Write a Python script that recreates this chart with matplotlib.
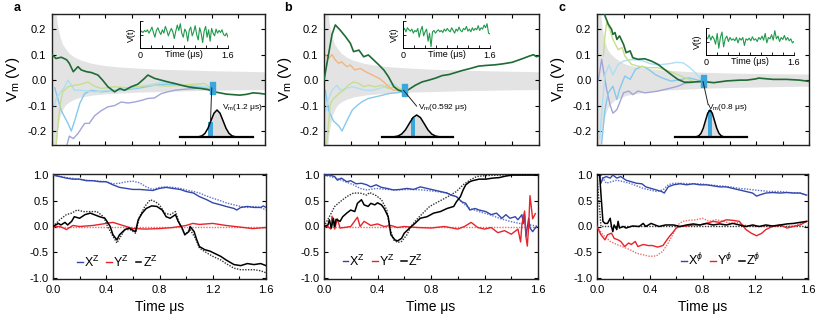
import numpy as np
import matplotlib
matplotlib.use("Agg")
import matplotlib.pyplot as plt
from matplotlib.patches import ConnectionPatch

plt.rcParams['font.family'] = ['Liberation Sans', 'DejaVu Sans']
plt.rcParams['axes.unicode_minus'] = False
plt.rcParams['mathtext.fontset'] = 'custom'
plt.rcParams['mathtext.rm'] = 'Liberation Sans'
plt.rcParams['mathtext.it'] = 'Liberation Sans:italic'
plt.rcParams['mathtext.bf'] = 'Liberation Sans:bold'

# ---------------- data: top panels (V_m trajectories) ----------------
band_t = [0.005, 0.02, 0.04, 0.06, 0.08, 0.1, 0.13, 0.17, 0.22, 0.3, 0.4, 0.5, 0.65, 0.8, 1.0, 1.2, 1.4, 1.6]
band_hi = [0.40, 0.30, 0.22, 0.17, 0.14, 0.125, 0.105, 0.09, 0.078, 0.066, 0.057, 0.052, 0.047, 0.043, 0.04, 0.037, 0.035, 0.033]
band_lo = [-0.40, -0.30, -0.2, -0.14, -0.115, -0.098, -0.085, -0.075, -0.066, -0.059, -0.054, -0.051, -0.047, -0.045, -0.042, -0.04, -0.038, -0.037]
bandc_hi = [0.40, 0.30, 0.2, 0.15, 0.12, 0.105, 0.09, 0.075, 0.062, 0.052, 0.045, 0.04, 0.035, 0.031, 0.028, 0.026, 0.025, 0.024]
bandc_lo = [-0.40, -0.30, -0.2, -0.14, -0.11, -0.095, -0.08, -0.07, -0.06, -0.052, -0.045, -0.04, -0.036, -0.032, -0.029, -0.027, -0.025, -0.024]

ga_t = [0.0, 0.03, 0.07, 0.11, 0.13, 0.16, 0.195, 0.22, 0.26, 0.295, 0.345, 0.38, 0.42, 0.47, 0.51, 0.545, 0.595, 0.645, 0.695, 0.72, 0.77, 0.82, 0.87, 0.92, 0.97, 1.02, 1.07, 1.12, 1.17, 1.22, 1.26, 1.31, 1.36, 1.41, 1.46, 1.51, 1.56, 1.6]
ga_v = [0.10, 0.085, 0.09, 0.08, 0.066, 0.033, 0.053, 0.04, 0.033, 0.03, 0.02, 0.0, -0.026, -0.046, -0.033, -0.04, -0.026, -0.016, 0.007, 0.02, 0.007, 0.0, -0.007, -0.013, -0.02, -0.026, -0.03, -0.033, -0.037, -0.046, -0.05, -0.055, -0.057, -0.059, -0.056, -0.05, -0.052, -0.055]
yg_a_t = [0.03, 0.05, 0.06, 0.08, 0.12, 0.17, 0.22, 0.27, 0.32, 0.37, 0.47, 0.57, 0.67, 0.77, 0.87, 0.97, 1.07, 1.145, 1.19]
yg_a_v = [-0.26, -0.15, -0.1, -0.046, -0.026, -0.02, -0.016, -0.007, -0.024, -0.033, -0.026, -0.03, -0.024, -0.02, -0.024, -0.02, -0.016, -0.013, -0.03]
pc_a_t = [0.015, 0.03, 0.06, 0.09, 0.12, 0.145, 0.17, 0.22, 0.32, 0.42, 0.52, 0.62, 0.72, 0.82, 0.92, 1.02, 1.12, 1.19]
pc_a_v = [-0.1, -0.075, -0.05, -0.03, 0.0, -0.02, -0.04, -0.04, -0.046, -0.04, -0.037, -0.03, -0.02, -0.01, -0.013, -0.02, -0.024, -0.03]
sb_a_t = [0.02, 0.04, 0.07, 0.1, 0.12, 0.145, 0.17, 0.21, 0.245, 0.295, 0.37, 0.47, 0.57, 0.67, 0.77, 0.87, 0.97, 1.07, 1.19]
sb_a_v = [-0.03, -0.066, -0.12, -0.15, -0.17, -0.2, -0.16, -0.09, -0.053, -0.04, -0.046, -0.04, -0.037, -0.03, -0.02, -0.016, -0.02, -0.024, -0.03]
lv_a_t = [0.11, 0.13, 0.16, 0.195, 0.245, 0.28, 0.32, 0.37, 0.42, 0.47, 0.52, 0.57, 0.62, 0.67, 0.72, 0.77, 0.82, 0.87, 0.92, 0.97, 1.07, 1.19]
lv_a_v = [-0.26, -0.22, -0.23, -0.21, -0.17, -0.17, -0.14, -0.12, -0.105, -0.1, -0.086, -0.09, -0.086, -0.08, -0.072, -0.07, -0.053, -0.046, -0.04, -0.037, -0.033, -0.03]
mark_a = (1.2, -0.03)

gb_t = [0.0, 0.03, 0.06, 0.084, 0.12, 0.16, 0.196, 0.22, 0.26, 0.295, 0.33, 0.37, 0.41, 0.445, 0.48, 0.52, 0.555, 0.6, 0.63, 0.68, 0.73, 0.78, 0.83, 0.88, 0.93, 0.98, 1.03, 1.09, 1.15, 1.21, 1.27, 1.33, 1.4, 1.48, 1.53, 1.56, 1.58, 1.6]
gb_v = [0.0, 0.09, 0.18, 0.217, 0.197, 0.171, 0.145, 0.112, 0.118, 0.092, 0.099, 0.079, 0.059, 0.04, 0.013, -0.026, -0.04, -0.046, -0.037, -0.02, -0.007, 0.0, 0.008, 0.018, 0.022, 0.03, 0.038, 0.046, 0.055, 0.058, 0.06, 0.064, 0.07, 0.085, 0.095, 0.1, 0.092, 0.095]
or_b_t = [0.01, 0.035, 0.06, 0.085, 0.11, 0.13, 0.17, 0.196, 0.23, 0.27, 0.31, 0.36, 0.41, 0.445, 0.48, 0.52, 0.555, 0.586]
or_b_v = [0.1, 0.086, 0.1, 0.079, 0.066, 0.072, 0.053, 0.059, 0.04, 0.046, 0.033, 0.02, 0.007, -0.007, -0.026, -0.04, -0.037, -0.04]
yg_b_t = [0.02, 0.047, 0.072, 0.11, 0.146, 0.18, 0.22, 0.26, 0.295, 0.33, 0.38, 0.43, 0.48, 0.53, 0.586]
yg_b_v = [-0.25, -0.092, -0.072, -0.053, -0.04, -0.02, -0.007, -0.013, -0.026, -0.02, -0.026, -0.02, -0.033, -0.024, -0.04]
pc_b_t = [0.015, 0.03, 0.06, 0.097, 0.12, 0.16, 0.21, 0.26, 0.31, 0.36, 0.43, 0.48, 0.52, 0.586]
pc_b_v = [-0.12, -0.08, -0.04, -0.02, -0.04, -0.033, -0.026, -0.033, -0.04, -0.04, -0.03, -0.02, -0.016, -0.04]
sb_b_t = [0.01, 0.035, 0.07, 0.11, 0.134, 0.17, 0.21, 0.246, 0.28, 0.33, 0.38, 0.43, 0.48, 0.53, 0.586]
sb_b_v = [-0.04, -0.12, -0.16, -0.18, -0.2, -0.16, -0.118, -0.1, -0.086, -0.072, -0.066, -0.06, -0.053, -0.05, -0.046]
mark_b = (0.592, -0.04)

gc_t = [0.04, 0.06, 0.085, 0.11, 0.12, 0.136, 0.15, 0.17, 0.2, 0.22, 0.25, 0.27, 0.31, 0.36, 0.41, 0.46, 0.51, 0.56, 0.61, 0.66, 0.71, 0.795, 0.88, 0.98, 1.08, 1.13, 1.2, 1.22, 1.33, 1.43, 1.53, 1.6]
gc_v = [0.3, 0.253, 0.22, 0.2, 0.18, 0.187, 0.16, 0.174, 0.141, 0.108, 0.115, 0.088, 0.082, 0.084, 0.075, 0.062, 0.042, 0.022, 0.003, -0.008, -0.008, -0.005, -0.01, -0.003, 0.0, 0.0, 0.005, 0.008, 0.003, 0.003, 0.0, -0.005]
yg_c_t = [0.048, 0.06, 0.073, 0.1, 0.12, 0.16, 0.19, 0.21, 0.26, 0.31, 0.39, 0.46, 0.54, 0.61, 0.69, 0.74, 0.795]
yg_c_v = [0.095, 0.174, 0.227, 0.194, 0.16, 0.12, 0.128, 0.095, 0.062, 0.055, 0.049, 0.049, 0.036, 0.022, 0.003, -0.008, -0.005]
pc_c_t = [0.02, 0.04, 0.06, 0.09, 0.12, 0.16, 0.2, 0.25, 0.3, 0.35, 0.4, 0.45, 0.5, 0.55, 0.6, 0.65, 0.7, 0.75, 0.795]
pc_c_v = [-0.23, -0.1, 0.02, 0.06, 0.02, 0.062, 0.075, 0.08, 0.08, 0.075, 0.065, 0.06, 0.062, 0.065, 0.07, 0.068, 0.05, 0.025, -0.005]
sb_c_t = [0.035, 0.06, 0.085, 0.12, 0.15, 0.17, 0.21, 0.25, 0.29, 0.34, 0.39, 0.44, 0.49, 0.56, 0.64, 0.69, 0.74, 0.795]
sb_c_v = [-0.25, -0.116, -0.05, -0.024, -0.076, -0.037, 0.016, 0.003, 0.042, 0.055, 0.042, 0.022, 0.009, -0.004, 0.003, 0.009, 0.003, -0.005]
lv_c_t = [0.01, 0.035, 0.048, 0.073, 0.1, 0.12, 0.15, 0.17, 0.2, 0.24, 0.27, 0.31, 0.36, 0.41, 0.46, 0.51, 0.565, 0.61, 0.66, 0.71, 0.795]
lv_c_v = [0.0, 0.082, 0.04, -0.037, -0.1, -0.13, -0.116, -0.09, -0.05, -0.043, -0.057, -0.043, -0.05, -0.047, -0.043, -0.037, -0.03, -0.024, -0.013, -0.01, -0.005]
mark_c = (0.8, -0.005)

# inset V(t) records
ins_a = [0.1, 0.25, 0.15, 0.3, 0.2, 0.35, 0.1, 0.3, 0.55, 0.15, -0.2, 0.3, 0.5, 0.2, 0.0, 0.35, 0.1, 0.6, 0.3, -0.1,
         0.2, 0.45, 0.2, -0.3, 0.25, 0.7, 0.3, 0.8, 0.1, -0.2, 0.4, 0.2, -0.5, 0.3, 0.55, -0.1, 0.2, 0.65, 0.0, -0.4,
         0.5, 0.1, -0.6, 0.25, 0.6, -0.2, 0.35, -0.5, 0.45, 0.1, -0.1, 0.4, 0.1, 0.3, 0.15, 0.35, 0.0, -0.1, 0.1, -0.2]
ins_b = [0.3, 0.45, 0.2, 0.5, 0.35, 0.25, 0.4, 0.1, 0.3, 0.2, 0.45, -0.2, 0.3, 0.6, -0.1, 0.2, 0.4, -0.5, 0.1, -0.9,
         0.2, 0.3, 0.1, 0.25, 0.35, 0.2, 0.3, 0.15, 0.4, 0.25, 0.45, 0.3, 0.2, 0.5, 0.3, 0.1, 0.4, 0.25, 0.55, 0.3,
         0.2, 0.45, 0.35, 0.6, 0.25, 0.4, 0.2, 0.5, 0.3, 0.45, 0.35, 0.65, 0.3, 0.5, 0.4, 0.7, 0.5, 0.8, 0.1, 0.05]
ins_c = [0.3, 0.2, 0.5, 0.1, 0.4, 0.2, -0.2, 0.6, -0.5, 0.3, 0.7, -0.4, 0.2, 0.4, 0.0, 0.3, 0.1, 0.2, 0.05, 0.3,
         -0.1, 0.25, 0.1, 0.3, -0.3, 0.2, 0.1, 0.25, 0.05, 0.35, 0.1, 0.2, 0.0, 0.3, 0.15, 0.4, 0.1, 0.6, -0.1, 0.3,
         0.2, 0.5, 0.1, 0.8, 0.2, 0.4, 0.0, 0.3, 0.15, 0.45, 0.1, 0.3, 0.05, 0.2, -0.1, 0.0]

# gaussian sketch (units of sigma)
gauss_x = [-4, -3.5, -3, -2.5, -2, -1.5, -1, -0.5, 0, 0.5, 1, 1.5, 2, 2.5, 3, 3.5, 4]
gauss_y = [0.0003, 0.0022, 0.011, 0.044, 0.135, 0.325, 0.607, 0.882, 1.0, 0.882, 0.607, 0.325, 0.135, 0.044, 0.011, 0.0022, 0.0003]
gauss_labels = [r"V$_\mathrm{m}$(1.2 μs)", r"V$_\mathrm{m}$(0.592 μs)", r"V$_\mathrm{m}$(0.8 μs)"]
bar_pos = [-1.08, -0.55, 0.0]
bar_h = [0.56, 0.86, 1.0]
bar_w = [0.8, 0.55, 0.9]

# ---------------- data: bottom panels (Bloch components) ----------------
Xa_t = [0, 0.05, 0.1, 0.15, 0.2, 0.25, 0.3, 0.35, 0.4, 0.45, 0.5, 0.55, 0.6, 0.65, 0.7, 0.75, 0.8, 0.85, 0.9, 0.955, 1.0, 1.055, 1.1, 1.155, 1.2, 1.26, 1.3, 1.36, 1.38, 1.41, 1.46, 1.51, 1.56, 1.58, 1.6]
Xa_v = [1.0, 0.97, 0.94, 0.92, 0.92, 0.89, 0.89, 0.87, 0.87, 0.81, 0.76, 0.74, 0.72, 0.72, 0.71, 0.7, 0.74, 0.76, 0.74, 0.72, 0.68, 0.65, 0.58, 0.52, 0.46, 0.42, 0.39, 0.35, 0.32, 0.37, 0.39, 0.37, 0.37, 0.4, 0.37]
Xad_t = [0, 0.1, 0.25, 0.4, 0.45, 0.5, 0.55, 0.6, 0.65, 0.7, 0.75, 0.8, 0.85, 0.9, 0.955, 1.0, 1.055, 1.1, 1.155, 1.2, 1.26, 1.3, 1.36, 1.41, 1.46, 1.51, 1.56, 1.6]
Xad_v = [1.0, 0.95, 0.9, 0.87, 0.83, 0.84, 0.87, 0.88, 0.85, 0.77, 0.72, 0.76, 0.77, 0.76, 0.74, 0.71, 0.68, 0.65, 0.59, 0.55, 0.5, 0.46, 0.42, 0.39, 0.37, 0.39, 0.37, 0.32]
Ya_t = [0, 0.05, 0.08, 0.1, 0.15, 0.2, 0.3, 0.4, 0.45, 0.5, 0.6, 0.7, 0.8, 0.9, 1.0, 1.05, 1.1, 1.2, 1.3, 1.4, 1.5, 1.6]
Ya_v = [0, 0.0, -0.03, -0.06, 0.02, 0.0, 0.02, 0.06, 0.08, 0.04, -0.04, -0.05, -0.04, -0.02, 0.02, 0.06, 0.04, 0.06, 0.02, -0.01, -0.04, -0.02]
Yad_t = [0, 1.6]
Yad_v = [0, 0]
Za_t = [0, 0.04, 0.06, 0.09, 0.11, 0.14, 0.16, 0.2, 0.24, 0.28, 0.31, 0.35, 0.39, 0.43, 0.45, 0.48, 0.5, 0.54, 0.57, 0.59, 0.62, 0.64, 0.67, 0.7, 0.74, 0.78, 0.82, 0.85, 0.88, 0.92, 0.94, 0.97, 0.99, 1.02, 1.03, 1.06, 1.08, 1.1, 1.14, 1.18, 1.22, 1.26, 1.3, 1.36, 1.41, 1.46, 1.51, 1.56, 1.6]
Za_v = [0, 0.06, 0.03, 0.08, 0.03, 0.1, 0.19, 0.16, 0.23, 0.26, 0.23, 0.19, 0.16, 0.0, -0.16, -0.26, -0.16, -0.06, -0.03, -0.06, -0.1, 0.13, 0.26, 0.35, 0.4, 0.39, 0.32, 0.19, 0.16, 0.23, 0.1, -0.03, -0.16, -0.1, 0.0, -0.1, -0.26, -0.39, -0.45, -0.48, -0.53, -0.58, -0.65, -0.74, -0.76, -0.72, -0.74, -0.72, -0.76]
Zad_t = [0, 0.05, 0.1, 0.14, 0.18, 0.23, 0.28, 0.33, 0.38, 0.41, 0.45, 0.48, 0.5, 0.54, 0.58, 0.62, 0.65, 0.69, 0.73, 0.77, 0.8, 0.84, 0.88, 0.92, 0.95, 0.99, 1.03, 1.07, 1.1, 1.16, 1.2, 1.26, 1.3, 1.36, 1.41, 1.46, 1.51, 1.56, 1.6]
Zad_v = [0, 0.13, 0.23, 0.26, 0.32, 0.29, 0.29, 0.29, 0.19, 0.0, -0.19, -0.32, -0.23, -0.06, -0.06, -0.13, 0.19, 0.39, 0.52, 0.48, 0.42, 0.26, 0.23, 0.29, 0.06, -0.16, -0.06, -0.23, -0.42, -0.52, -0.58, -0.65, -0.72, -0.81, -0.84, -0.84, -0.84, -0.86, -0.9]

Xb_t = [0, 0.04, 0.08, 0.1, 0.13, 0.17, 0.2, 0.24, 0.28, 0.32, 0.35, 0.39, 0.43, 0.47, 0.52, 0.57, 0.62, 0.67, 0.72, 0.77, 0.82, 0.87, 0.92, 0.95, 0.99, 1.03, 1.06, 1.09, 1.13, 1.16, 1.21, 1.25, 1.29, 1.33, 1.36, 1.39, 1.43, 1.45, 1.48, 1.49, 1.5, 1.51, 1.53, 1.54, 1.56, 1.58, 1.59]
Xb_v = [1.0, 1.0, 0.97, 0.9, 0.94, 0.87, 0.89, 0.83, 0.84, 0.81, 0.77, 0.81, 0.76, 0.74, 0.71, 0.72, 0.74, 0.72, 0.77, 0.74, 0.71, 0.68, 0.65, 0.61, 0.58, 0.48, 0.45, 0.32, 0.35, 0.32, 0.29, 0.23, 0.26, 0.16, 0.23, 0.16, 0.19, 0.13, 0.23, 0.06, 0.23, -0.19, 0.16, -0.03, -0.1, -0.03, 0.0]
Xbd_t = [0, 0.09, 0.22, 0.27, 0.32, 0.39, 0.47, 0.54, 0.64, 0.74, 0.84, 0.92, 0.99, 1.04, 1.09, 1.16, 1.24, 1.31, 1.39, 1.46, 1.54, 1.59]
Xbd_v = [1.0, 0.94, 0.81, 0.74, 0.71, 0.74, 0.72, 0.71, 0.72, 0.71, 0.68, 0.65, 0.58, 0.45, 0.35, 0.29, 0.23, 0.16, 0.1, 0.06, 0.03, 0.01]
Yb_t = [0, 0.03, 0.05, 0.06, 0.08, 0.1, 0.12, 0.15, 0.2, 0.25, 0.27, 0.3, 0.35, 0.4, 0.45, 0.5, 0.55, 0.6, 0.7, 0.8, 0.9, 1.0, 1.05, 1.1, 1.15, 1.2, 1.25, 1.3, 1.35, 1.4, 1.45, 1.47, 1.48, 1.5, 1.51, 1.52, 1.53, 1.54, 1.56, 1.58]
Yb_v = [0, 0.0, -0.05, 0.2, -0.05, 0.15, -0.03, -0.02, 0.0, 0.18, 0.0, 0.1, 0.02, 0.05, 0.0, 0.02, -0.02, 0.0, -0.02, -0.03, 0.0, -0.05, 0.0, 0.08, -0.02, -0.05, -0.02, -0.12, -0.08, -0.15, -0.05, -0.3, 0.05, 0.3, -0.2, -0.38, 0.0, 0.6, 0.15, 0.25]
Ybd_t = [0, 1.6]
Ybd_v = [0, 0]
Zb_t = [0, 0.03, 0.04, 0.055, 0.07, 0.08, 0.09, 0.12, 0.14, 0.17, 0.2, 0.23, 0.25, 0.28, 0.3, 0.33, 0.35, 0.38, 0.4, 0.43, 0.45, 0.48, 0.5, 0.53, 0.55, 0.58, 0.6, 0.64, 0.68, 0.72, 0.77, 0.82, 0.87, 0.92, 0.97, 0.99, 1.02, 1.04, 1.06, 1.09, 1.11, 1.16, 1.21, 1.26, 1.31, 1.36, 1.41, 1.49, 1.59]
Zb_v = [0, 0.03, 0.13, -0.03, 0.16, 0.0, 0.14, 0.1, 0.19, 0.26, 0.32, 0.29, 0.45, 0.52, 0.42, 0.39, 0.45, 0.42, 0.46, 0.42, 0.35, 0.19, -0.16, -0.26, -0.28, -0.23, -0.13, -0.03, 0.06, 0.16, 0.19, 0.26, 0.29, 0.35, 0.39, 0.48, 0.58, 0.71, 0.81, 0.87, 0.89, 0.92, 0.92, 0.94, 0.95, 0.98, 1.0, 1.0, 1.0]
Zbd_t = [0, 0.04, 0.08, 0.12, 0.17, 0.22, 0.27, 0.32, 0.34, 0.39, 0.43, 0.47, 0.49, 0.52, 0.55, 0.58, 0.62, 0.65, 0.69, 0.74, 0.79, 0.84, 0.89, 0.94, 0.99, 1.04, 1.09, 1.14, 1.21, 1.34, 1.59]
Zbd_v = [0, 0.19, 0.39, 0.48, 0.58, 0.65, 0.65, 0.61, 0.66, 0.6, 0.52, 0.32, 0.0, -0.26, -0.31, -0.29, -0.16, 0.0, 0.13, 0.26, 0.39, 0.46, 0.53, 0.6, 0.68, 0.81, 0.9, 0.97, 0.99, 1.0, 1.0]

Xc_t = [0, 0.02, 0.03, 0.045, 0.07, 0.1, 0.12, 0.15, 0.18, 0.22, 0.26, 0.3, 0.34, 0.37, 0.41, 0.45, 0.49, 0.51, 0.54, 0.58, 0.63, 0.68, 0.73, 0.78, 0.83, 0.88, 0.93, 0.98, 1.03, 1.08, 1.13, 1.18, 1.21, 1.23, 1.28, 1.33, 1.39, 1.44, 1.49, 1.54, 1.59]
Xc_v = [1.0, 1.0, 0.84, 0.94, 0.97, 0.94, 1.0, 0.94, 0.97, 0.9, 0.87, 0.84, 0.83, 0.77, 0.74, 0.71, 0.68, 0.65, 0.77, 0.81, 0.83, 0.81, 0.83, 0.81, 0.81, 0.79, 0.77, 0.77, 0.74, 0.71, 0.68, 0.65, 0.59, 0.61, 0.65, 0.66, 0.65, 0.66, 0.65, 0.65, 0.61]
Xcd_t = [0, 0.045, 0.07, 0.11, 0.15, 0.2, 0.25, 0.3, 0.35, 0.4, 0.45, 0.5, 0.54, 0.58, 0.63, 0.7, 0.78, 0.85, 0.93, 1.01, 1.08, 1.16, 1.23, 1.31, 1.39, 1.46, 1.54, 1.59]
Xcd_v = [1.0, 0.94, 0.84, 0.87, 0.9, 0.87, 0.84, 0.79, 0.74, 0.71, 0.68, 0.71, 0.81, 0.84, 0.84, 0.83, 0.83, 0.81, 0.79, 0.77, 0.74, 0.72, 0.7, 0.68, 0.68, 0.66, 0.65, 0.61]
Yc_t = [0, 0.03, 0.06, 0.08, 0.11, 0.13, 0.16, 0.18, 0.21, 0.24, 0.26, 0.29, 0.31, 0.35, 0.39, 0.42, 0.46, 0.5, 0.53, 0.55, 0.58, 0.6, 0.63, 0.68, 0.73, 0.78, 0.83, 0.88, 0.93, 0.98, 1.03, 1.08, 1.1, 1.13, 1.17, 1.21, 1.25, 1.28, 1.33, 1.39, 1.44, 1.49, 1.54, 1.59]
Yc_v = [0, -0.16, -0.26, -0.16, -0.13, -0.23, -0.26, -0.29, -0.39, -0.32, -0.35, -0.29, -0.39, -0.35, -0.37, -0.37, -0.4, -0.37, -0.26, -0.19, -0.1, -0.03, 0.0, 0.01, 0.03, 0.03, 0.06, 0.1, 0.08, 0.13, 0.12, 0.1, 0.03, -0.06, -0.13, -0.18, -0.13, -0.06, 0.0, 0.03, -0.03, 0.0, 0.03, 0.1]
Ycd_t = [0, 0.045, 0.1, 0.15, 0.2, 0.25, 0.3, 0.35, 0.4, 0.45, 0.5, 0.54, 0.58, 0.61, 0.65, 0.7, 0.75, 0.8, 0.85, 0.9, 0.96, 1.01, 1.06, 1.11, 1.18, 1.28, 1.39, 1.49, 1.59]
Ycd_v = [0, -0.16, -0.29, -0.35, -0.4, -0.45, -0.52, -0.55, -0.58, -0.57, -0.48, -0.32, -0.13, 0.03, 0.1, 0.12, 0.13, 0.16, 0.1, 0.13, 0.1, 0.06, 0.08, 0.03, 0.0, 0.0, 0.0, 0.01, 0.1]
Zc_t = [0, 0.02, 0.033, 0.045, 0.06, 0.08, 0.1, 0.11, 0.12, 0.13, 0.15, 0.16, 0.17, 0.2, 0.22, 0.27, 0.32, 0.35, 0.37, 0.41, 0.44, 0.47, 0.52, 0.58, 0.63, 0.68, 0.73, 0.78, 0.83, 0.88, 0.93, 0.98, 1.03, 1.08, 1.13, 1.18, 1.23, 1.28, 1.33, 1.39, 1.44, 1.49, 1.54, 1.59]
Zc_v = [1.0, 1.0, 0.52, 0.1, 0.06, 0.06, 0.16, 0.0, -0.1, 0.03, -0.06, 0.1, -0.03, 0.0, -0.03, 0.01, 0.0, 0.06, 0.0, 0.06, 0.03, 0.0, 0.03, 0.03, 0.0, 0.03, 0.05, 0.03, 0.06, 0.03, 0.05, 0.03, 0.06, 0.03, 0.0, 0.03, 0.0, 0.03, 0.01, 0.03, 0.05, 0.06, 0.08, 0.1]
Zcd_t = [0, 0.03, 1.6]
Zcd_v = [1.0, 0.0, 0.0]

legend_a = [r"X$^\mathrm{Z}$", r"Y$^\mathrm{Z}$", r"Z$^\mathrm{Z}$"]
legend_c = [r"X$^{\phi}$", r"Y$^{\phi}$", r"Z$^{\phi}$"]

# ---------------- styling ----------------
DKGREEN = '#1e6b35'
YGREEN = '#c6de8e'
PALECYAN = '#b0def2'
SKYBLUE = '#86c9ec'
LAVENDER = '#a2a5d7'
ORANGE = '#f5b47c'
BAND = '#e3e3e3'
MARK = '#3aa6dc'
INGREEN = '#1f9a4c'
BLUE = '#3447a8'
BLUE_D = '#5d72cf'
RED = '#e8232a'
RED_D = '#f26b6b'

W, H = 830, 329
fig = plt.figure(figsize=(8.3, 3.29), dpi=100)


def rect(l, r, t, b):
    return [l / W, 1 - b / H, (r - l) / W, (b - t) / H]


TOP = [(52, 265), (324, 539), (597, 809)]
BOT = [(53, 266), (324, 538), (597, 808)]
INSETS = [(140, 228, 21, 48), (403, 490, 21, 48), (706, 794, 28, 55)]
GAUSS = [(180, 253, 110, 137, 217, 6.0), (381.7, 452.7, 115, 137, 416.7, 7.5), (675, 746.7, 110, 137, 710, 4.5)]
FILL_FROM = [-1.08, -4, -4]
CONN_B = [(-1.08, 0.6), (0.0, 1.4), (-0.4, 1.19)]
LABEL_POS = [(222, 108), (418, 108), (707, 108)]
LEG_POS = [(0.113, 0.16), (0.087, 0.17), (0.40, 0.18)]

rect_marker = [(-0.45, -1), (0.45, -1), (0.45, 1), (-0.45, 1), (-0.45, -1)]

top_sets = [
    dict(band=(band_hi, band_lo), green=(ga_t, ga_v),
         others=[(lv_a_t, lv_a_v, LAVENDER), (sb_a_t, sb_a_v, SKYBLUE), (pc_a_t, pc_a_v, PALECYAN), (yg_a_t, yg_a_v, YGREEN)],
         mark=mark_a, ins=ins_a),
    dict(band=(band_hi, band_lo), green=(gb_t, gb_v),
         others=[(sb_b_t, sb_b_v, SKYBLUE), (pc_b_t, pc_b_v, PALECYAN), (yg_b_t, yg_b_v, YGREEN), (or_b_t, or_b_v, ORANGE)],
         mark=mark_b, ins=ins_b),
    dict(band=(bandc_hi, bandc_lo), green=(gc_t, gc_v),
         others=[(lv_c_t, lv_c_v, LAVENDER), (sb_c_t, sb_c_v, SKYBLUE), (pc_c_t, pc_c_v, PALECYAN), (yg_c_t, yg_c_v, YGREEN)],
         mark=mark_c, ins=ins_c),
]

for i, d in enumerate(top_sets):
    l, r = TOP[i]
    ax = fig.add_axes(rect(l, r, 14, 145))
    ax.fill_between(band_t, d['band'][1], d['band'][0], color=BAND, lw=0, zorder=1)
    for t, v, c in d['others']:
        ax.plot(t, v, color=c, lw=1.0, zorder=2)
    ax.plot(d['green'][0], d['green'][1], color=DKGREEN, lw=1.2, zorder=3)
    ax.plot([d['mark'][0]], [d['mark'][1]], marker=rect_marker, ms=8, color=MARK, mec=MARK, zorder=5)
    ax.set_xlim(0, 1.6)
    ax.set_ylim(-0.255, 0.26)
    ax.set_xticks(np.arange(0, 1.61, 0.2))
    ax.set_xticklabels([])
    ax.set_yticks([-0.2, -0.1, 0.0, 0.1, 0.2])
    ax.set_yticklabels(['-0.2', '-0.1', '0.0', '0.1', '0.2'])
    ax.tick_params(direction='in', top=True, right=True, length=3, width=0.8, labelsize=8, pad=4)
    for s in ax.spines.values():
        s.set_linewidth(1.0)
        s.set_color('#222222')
    ax.set_ylabel(r"V$_\mathrm{m}$ (V)", fontsize=11)
    ax.yaxis.set_label_coords(-0.14, 0.5)

    # V(t) inset
    il, ir, it, ib = INSETS[i]
    ia = fig.add_axes(rect(il, ir, it, ib))
    ia.patch.set_alpha(0)
    ia.plot(np.linspace(0, 1.6, len(d['ins'])), d['ins'], color=INGREEN, lw=0.8)
    ia.set_xlim(0, 1.6)
    ia.set_ylim(-1, 1)
    for s in ['top', 'right']:
        ia.spines[s].set_visible(False)
    for s in ['left', 'bottom']:
        ia.spines[s].set_linewidth(0.7)
    ia.set_xticks(np.arange(0, 1.61, 0.2))
    ia.set_xticklabels(['0', '', '', '', '', '', '', '', '1.6'])
    ia.set_yticks([-1, 0, 1])
    ia.set_yticklabels([])
    ia.tick_params(direction='in', length=2, width=0.6, labelsize=6.5, pad=2)
    ia.text(0.5, -0.09, 'Time (μs)', transform=ia.transAxes, ha='center', va='top', fontsize=6.5)
    ia.set_ylabel('V(t)', fontsize=6.5, labelpad=1)

    # gaussian sketch
    gl, gr, gt, gb, gpk, sig = GAUSS[i]
    gax = fig.add_axes(rect(gl, gr, gt, gb))
    gax.axis('off')
    gax.set_xlim((gl - gpk) / sig, (gr - gpk) / sig)
    gax.set_ylim(0, 1)
    gax.fill_between(gauss_x, 0, gauss_y, where=[x >= FILL_FROM[i] - 0.5 for x in gauss_x],
                     color='#dedede', lw=0, zorder=1)
    gax.bar([bar_pos[i]], [bar_h[i]], width=bar_w[i], color=MARK, zorder=2)
    gax.plot(gauss_x, gauss_y, color='k', lw=1.1, zorder=3, clip_on=False)
    gax.axhline(0, color='k', lw=1.6, zorder=4, clip_on=False)
    cp = ConnectionPatch(xyA=d['mark'], coordsA=ax.transData, xyB=CONN_B[i], coordsB=gax.transData,
                         color='#222222', lw=0.7, zorder=6)
    fig.add_artist(cp)
    lx, ly = LABEL_POS[i]
    fig.text(lx / W, 1 - ly / H, gauss_labels[i], fontsize=6, ha='left', va='center')

# ---------------- bottom panels ----------------
bot_sets = [
    (Xa_t, Xa_v, Xad_t, Xad_v, Ya_t, Ya_v, Yad_t, Yad_v, Za_t, Za_v, Zad_t, Zad_v, legend_a),
    (Xb_t, Xb_v, Xbd_t, Xbd_v, Yb_t, Yb_v, Ybd_t, Ybd_v, Zb_t, Zb_v, Zbd_t, Zbd_v, legend_a),
    (Xc_t, Xc_v, Xcd_t, Xcd_v, Yc_t, Yc_v, Ycd_t, Ycd_v, Zc_t, Zc_v, Zcd_t, Zcd_v, legend_c),
]

for i, (xt, xv, xdt, xdv, yt, yv, ydt, ydv, zt, zv, zdt, zdv, labs) in enumerate(bot_sets):
    l, r = BOT[i]
    ax = fig.add_axes(rect(l, r, 174, 279))
    ax.plot(xdt, xdv, color=BLUE_D, lw=1.0, ls=(0, (1, 1)), zorder=2)
    ax.plot(ydt, ydv, color=RED_D, lw=1.0, ls=(0, (1, 1)), zorder=2)
    ax.plot(zdt, zdv, color='#333333', lw=1.0, ls=(0, (1, 1)), zorder=2)
    hx, = ax.plot(xt, xv, color=BLUE, lw=1.0, zorder=3)
    hy, = ax.plot(yt, yv, color=RED, lw=1.0, zorder=3)
    hz, = ax.plot(zt, zv, color='black', lw=1.1, zorder=4)
    ax.set_xlim(0, 1.6)
    ax.set_ylim(-1.02, 1.02)
    ax.set_xticks([0.0, 0.4, 0.8, 1.2, 1.6])
    ax.set_xticklabels(['0.0', '0.4', '0.8', '1.2', '1.6'])
    ax.set_xticks(np.arange(0, 1.61, 0.2), minor=True)
    ax.set_yticks([-1.0, -0.5, 0.0, 0.5, 1.0])
    ax.set_yticklabels(['-1.0', '-0.5', '0.0', '0.5', '1.0'])
    ax.tick_params(which='both', direction='in', top=True, right=True, width=0.8, labelsize=8)
    ax.tick_params(which='major', length=3)
    ax.tick_params(which='minor', length=2)
    ax.tick_params(axis='y', pad=3)
    ax.tick_params(axis='x', pad=4)
    for s in ax.spines.values():
        s.set_linewidth(1.0)
        s.set_color('#222222')
    ax.set_xlabel('Time μs', fontsize=10)
    ax.xaxis.set_label_coords(0.5, -0.2)
    ax.legend([hx, hy, hz], labs, ncol=3, frameon=False, fontsize=9, loc='center left',
              bbox_to_anchor=LEG_POS[i], handlelength=0.45, handletextpad=0.1, columnspacing=0.55,
              borderpad=0, borderaxespad=0)

for lab, x in zip(['a', 'b', 'c'], [17, 288, 562]):
    fig.text(x / W, 1 - 8 / H, lab, fontsize=9, fontweight='bold', ha='center', va='center')

fig.savefig('out.png', dpi=100)
